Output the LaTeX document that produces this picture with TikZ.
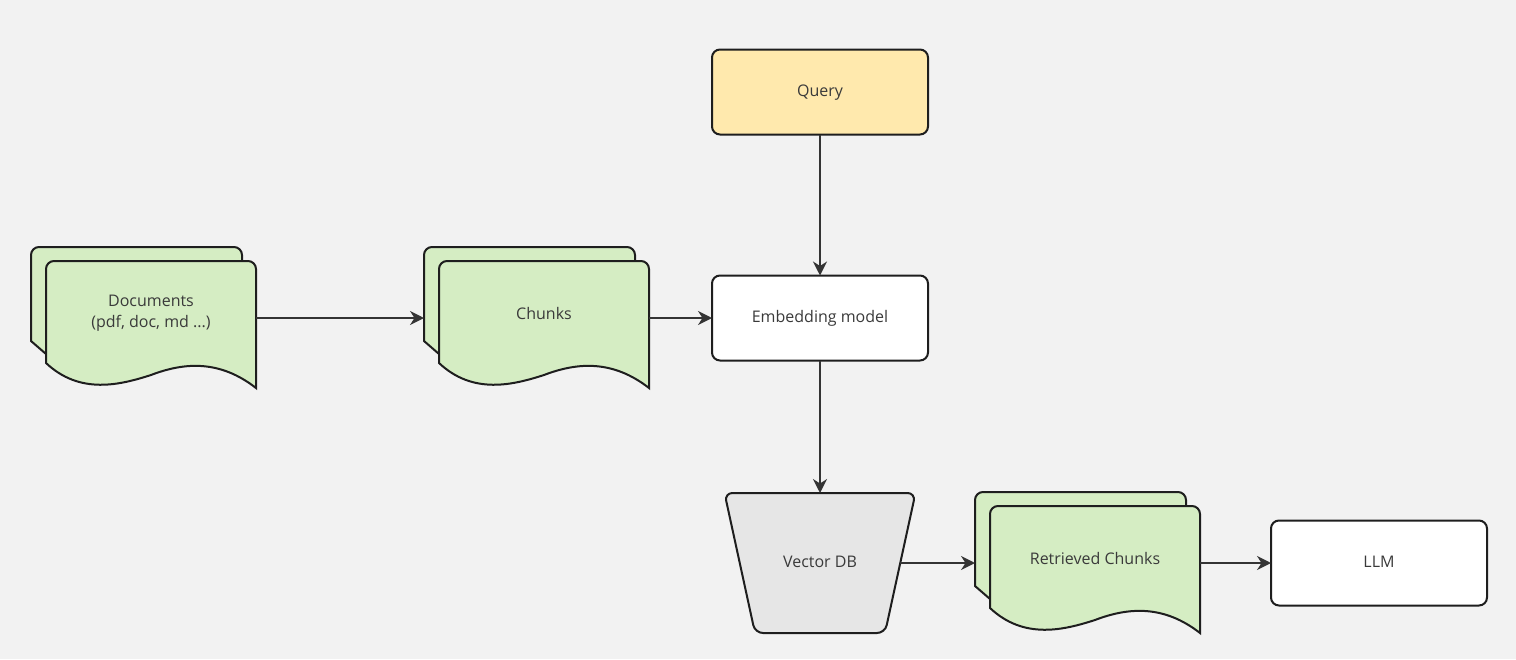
\documentclass[tikz,border=0pt]{standalone}
\usepackage{fontspec}
\setmainfont{Open Sans}
\usepackage{tikz}
\usetikzlibrary{calc, arrows.meta, positioning}
\definecolor{bgcolor}{HTML}{F2F2F2}
\definecolor{docgreen}{HTML}{D5EDC3}
\definecolor{queryyellow}{HTML}{FFE9AD}
\definecolor{dbgray}{HTML}{E6E6E6}
\definecolor{linecolor}{HTML}{1E1E1E}
\definecolor{textcolor}{HTML}{3A3A3A}
\tikzset{
    boxnode/.style = {draw=linecolor, line width=2pt, rectangle, rounded corners=8pt, fill=white,
      minimum width=216pt, minimum height=85pt, inner sep=0pt, outer sep=0pt,
      text height=2ex, text depth=.15ex},
    docnode/.style = {draw=none, fill=none, rectangle, minimum width=210pt, minimum height=114pt,
      inner sep=0pt, outer sep=0pt},
    dbnode/.style = {draw=none, fill=none, rectangle, minimum width=160.5pt, minimum height=140pt,
      inner sep=0pt, outer sep=0pt, text height=2ex, text depth=.15ex},
    textnode/.style = {draw=none, fill=none, inner sep=0pt, align=center},
    sheet/.style = {draw=linecolor, line width=2pt, fill=docgreen},
    connect/.style = {draw=textcolor!90!black, line width=2pt, -{Stealth[length=14pt, width=14pt]}},
    every node/.style = {font=\fontsize{16}{21}\selectfont, text=textcolor}
}
% stack of two sheets with a wavy bottom edge
\newcommand{\docstack}[3]{%
  \node [name=#1, docnode] at (#2) {};
  \coordinate (#1-back) at ($(#1.west)+(-15,0)$);
  \draw [sheet] ($(#1.south west)+(0,-21)$) -- ++(-15,-13) [rounded corners=8pt]
    |- ($(#1.north east)+(-14,-14)$) -- ($(#1.north east)+(-14,0)$);
  \draw [sheet] ($(#1.south east)+(0,13)$)
    .. controls ($(#1.south east)+(-36,-15)$) and ($(#1.south east)+(-71,-13)$) .. (#1.south)
    .. controls ($(#1.south west)+(74,10)$) and ($(#1.south west)+(34,20)$) .. ($(#1.south west)+(0,-12)$)
    [rounded corners=8pt] -- (#1.north west) -- (#1.north east) [sharp corners] -- cycle;
  \node [name=#1-text, textnode] at ($(#1.center)+(0,-4.5)$) {#3};
}

\begin{document}
\begin{tikzpicture}[x=1pt, y=-1pt]
    \fill [bgcolor] (0,0) rectangle (1516,659);
    \useasboundingbox (0,0) rectangle (1516,659);

    \node [name=embed, boxnode] at (820,318) {Embedding model};
    \node [name=query, boxnode, fill=queryyellow, above=141pt of embed] {Query};
    \node [name=llm, boxnode] at (1379,563) {LLM};

    % vector store: trapezoid drawn round an empty node
    \node [name=vdb, dbnode] at (820,563) {};
    \draw [draw=linecolor, line width=2pt, fill=dbgray, rounded corners=8pt]
      ($(vdb.north west)+(-15.25,0)$) -- ($(vdb.north east)+(15.25,0)$)
      -- ($(vdb.south east)+(-15.25,0)$) -- ($(vdb.south west)+(15.25,0)$) -- cycle;
    \node [name=vdb-text, dbnode] at (vdb) {Vector DB};

    \docstack{docs}{151,318}{Documents\\(pdf, doc, md ...)}
    \docstack{chunks}{544,318}{Chunks}
    \docstack{retrieved}{1095,563}{Retrieved Chunks}

    \draw [connect] (query) -- (embed);
    \draw [connect] (docs.east) -- (chunks-back);
    \draw [connect] (chunks.east) -- (embed.west);
    \draw [connect] (embed) -- (vdb);
    \draw [connect] (vdb.east) -- (retrieved-back);
    \draw [connect] (retrieved.east) -- (llm.west);
\end{tikzpicture}
\end{document}
